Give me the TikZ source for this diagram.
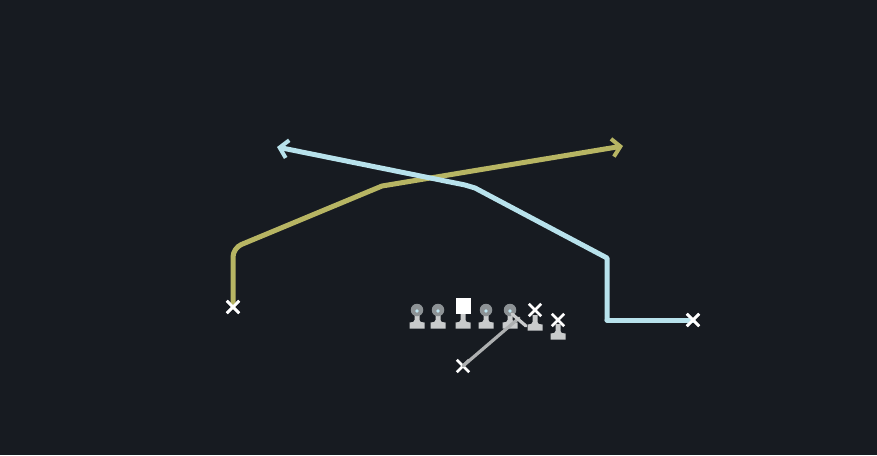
\documentclass[tikz,border=0pt]{standalone}
\usetikzlibrary{arrows.meta,shapes.misc}
\definecolor{bg}{HTML}{171B21}
\definecolor{yel}{HTML}{B7B563}
\definecolor{blu}{HTML}{B8E2EC}
\definecolor{qbl}{HTML}{AEB0B1}
\definecolor{headc}{HTML}{8D9295}
\definecolor{basec}{HTML}{C9CBCC}
\definecolor{dotc}{HTML}{BFE6F2}
\tikzset{
  route/.style={line width=5pt, line join=round, line cap=round},
  tipc/.style={-{Straight Barb[length=8pt,width=18pt,line width=4pt]}},
  xmark/.style={cross out, draw=white, line width=2.8pt, minimum size=9.5pt, inner sep=0pt},
  head/.style={circle, fill=headc, minimum size=12.5pt, inner sep=0pt},
  sqhead/.style={rectangle, fill=white, minimum width=15pt, minimum height=16pt, inner sep=0pt},
  pbase/.pic={\fill[basec] (-2.5,3) -- (2.5,3) -- (2.5,10) .. controls (2.5,12) and (4,12) .. (7.5,12.5) -- (7.5,18.5) -- (-7.5,18.5) -- (-7.5,12.5) .. controls (-4,12) and (-2.5,12) .. (-2.5,10) -- cycle;},
}
\begin{document}
\begin{tikzpicture}[x=1pt,y=-1pt]
\fill[bg] (0,0) rectangle (877,455);
\useasboundingbox (0,0) rectangle (877,455);
% linemen
\foreach \n/\px in {p1/417,p2/438,p4/486,p5/510}{
  \pic at (\px,310) {pbase};
  \node[head] (\n) at (\px,310) {};
  \fill[dotc] (\px,311) circle (1.8pt);
}
\pic at (463,310) {pbase};
\node[sqhead] (c) at (463,305.5) {};
% receivers near line
\pic at (535,312) {pbase};
\node[xmark] (x1) at (535,310) {};
\pic at (558,321) {pbase};
\node[xmark] (x2) at (558,320) {};
% qb
\node[xmark] (qb) at (463,366) {};
\coordinate (qbend) at (519,318);
\draw[qbl, line width=3.2pt, line cap=round] (qb.center) -- (qbend);
\draw[basec, line width=3.2pt, line cap=round] (p5) ++(2,4) -- ++(14,12);
% yellow route
\node[xmark] (yx) at (233,307) {};
\coordinate (y1) at (233,248);
\coordinate (y2) at (382,186);
\coordinate (y3) at (623,146);
\draw[route, yel, tipc] (yx.center) [rounded corners=9pt] -- (y1) [sharp corners] -- (y2) -- (y3);
% blue route
\node[xmark] (bx) at (693,320) {};
\coordinate (b1) at (607,320);
\coordinate (b2) at (607,258);
\coordinate (b3) at (475,188);
\coordinate (b4) at (465,185);
\coordinate (b5) at (277,147);
\draw[route, blu, tipc] (b1) -- (b2) -- (b3) -- (b4) -- (b5);
\draw[route, blu] (bx.center) -- (b1);
\node[xmark] at (yx) {};
\node[xmark] at (bx) {};
\end{tikzpicture}
\end{document}
